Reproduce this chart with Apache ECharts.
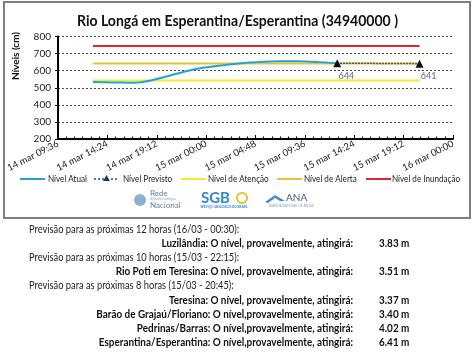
<!DOCTYPE html>
<html><head><meta charset="utf-8">
<script src="https://cdn.jsdelivr.net/npm/echarts@6/dist/echarts.min.js"></script>
<style>html,body{margin:0;padding:0;background:#fff}#c{width:474px;height:355px}</style>
</head><body><div id="c"></div>
<script>
// ---- data ----
const chartTitle = 'Rio Longá em Esperantina/Esperantina (34940000 )';
const yAxisName = 'Níveis (cm)';
// x values: hours since 14 mar 00:00
const atualHours  = [13, 15, 17, 19, 21, 23, 25, 27, 29, 31, 33, 35, 36.75];
const atualValues = [533, 531, 530, 548, 580, 610, 627, 641, 650, 655, 655, 650, 644];
const previstoHours  = [36.75, 44.75];
const previstoValues = [644, 641];
const limiteHours = [13, 44.75];
const atencaoValues   = [543, 543];
const alertaValues    = [642, 642];
const inundacaoValues = [745, 745];
const seriesNames = ['Nível Atual', 'Nível Previsto', 'Nível de Atenção', 'Nível de Alerta', 'Nível de Inundação'];
const seriesColors = ['#1fa3d8', '#1f3864', '#f2ec2a', '#f0c030', '#e3262a'];
const headerLines = [
  'Previsão para as próximas 12 horas (16/03 - 00:30):',
  'Previsão para as próximas 10 horas (15/03 - 22:15):',
  'Previsão para as próximas 8 horas (15/03 - 20:45):'
];
const stationLines = [
  'Luzilândia: O nível, provavelmente, atingirá:',
  'Rio Poti em Teresina: O nível, provavelmente, atingirá:',
  'Teresina: O nível, provavelmente, atingirá:',
  'Barão de Grajaú/Floriano: O nível,provavelmente, atingirá:',
  'Pedrinas/Barras: O nível,provavelmente, atingirá:',
  'Esperantina/Esperantina: O nível,provavelmente, atingirá:'
];
const stationValues = ['3.83 m', '3.51 m', '3.37 m', '3.40 m', '4.02 m', '6.41 m'];

const zip = (xs, ys) => xs.map((x, i) => [x, ys[i]]);
const FONT = 'Lato, "Open Sans", sans-serif';
const ctx = document.createElement('canvas').getContext('2d');
function textW(t, font) { ctx.font = font; return ctx.measureText(t).width; }

function fmtX(h) {
  const tm = Math.round(h * 60);
  const day = 14 + Math.floor(tm / 1440);
  const m = tm % 1440;
  const hh = String(Math.floor(m / 60)).padStart(2, '0');
  const mm = String(m % 60).padStart(2, '0');
  return day + ' mar ' + hh + ':' + mm;
}

const chart = echarts.init(document.getElementById('c'), null, {renderer: 'canvas'});

const titleFont = 'bold 16px ' + FONT;
const titleSx = 321 / textW(chartTitle, titleFont);
const hdrFont = '11px ' + FONT;
const hdrSx = 210 / textW(headerLines[0], hdrFont);
const stFont = 'bold 11px ' + FONT;
const stSx = (191 / textW(stationLines[0], stFont) + 238 / textW(stationLines[1], stFont)) / 2;
const lgFont = '10px ' + FONT;
const lgSx = 68 / textW(seriesNames[4], lgFont);

const graphics = [
  {type: 'rect', shape: {x: 4, y: 2, width: 466, height: 216}, style: {fill: 'none', stroke: '#7f7f7f', lineWidth: 2}, silent: true},
  {type: 'text', x: 237.5, y: 21, scaleX: titleSx, style: {text: chartTitle, font: titleFont, fill: '#111', textAlign: 'center', textVerticalAlign: 'middle'}},
  {type: 'text', x: 16, y: 56, rotation: Math.PI / 2, style: {text: yAxisName, font: 'bold 10px ' + FONT, fill: '#111', textAlign: 'center', textVerticalAlign: 'middle'}},
  // logo: Rede Hidrometeorológica Nacional
  {type: 'circle', shape: {cx: 140, cy: 200, r: 6}, style: {fill: '#6f9cc4', opacity: 0.8}},
  {type: 'text', x: 150, y: 193, style: {text: 'Rede', font: '8px ' + FONT, fill: '#5b7fa6', textVerticalAlign: 'middle'}},
  {type: 'text', x: 150, y: 199, style: {text: 'Hidrometeorológica', font: '3px ' + FONT, fill: '#8aa6c4', textVerticalAlign: 'middle'}},
  {type: 'text', x: 150, y: 205, style: {text: 'Nacional', font: '8px ' + FONT, fill: '#5b7fa6', textVerticalAlign: 'middle'}},
  // logo: SGB
  {type: 'text', x: 201, y: 198, style: {text: 'SGB', font: 'bold 15px ' + FONT, fill: '#2f86d6', textVerticalAlign: 'middle'}},
  {type: 'circle', shape: {cx: 242, cy: 198, r: 5}, style: {fill: 'none', stroke: '#e6c229', lineWidth: 2}},
  {type: 'text', x: 224, y: 207, style: {text: 'SERVIÇO GEOLÓGICO DO BRASIL', font: 'bold 3px ' + FONT, fill: '#2f86d6', textAlign: 'center', textVerticalAlign: 'middle'}},
  // logo: ANA
  {type: 'polygon', shape: {points: [[265, 202], [275, 195], [285, 201], [280, 201], [275, 198], [268, 203]]}, style: {fill: '#3f8fc9'}},
  {type: 'text', x: 286, y: 198, style: {text: 'ANA', font: '10px ' + FONT, fill: '#3d5a8a', textVerticalAlign: 'middle'}},
  {type: 'text', x: 291, y: 206, style: {text: 'AGÊNCIA NACIONAL DE ÁGUAS', font: '3px ' + FONT, fill: '#8a9ab4', textAlign: 'center', textVerticalAlign: 'middle'}}
];

// manual legend
const lgY = 179;
const lgIconX = [20, 94, 181, 277, 366];
const lgTextX = [48, 123, 208, 304, 392];
seriesNames.forEach((n, i) => {
  const c = seriesColors[i];
  if (i === 1) {
    [0, 4, 8, 17, 21].forEach(d => graphics.push({type: 'circle', shape: {cx: lgIconX[i] + d + 1, cy: lgY, r: 0.9}, style: {fill: c}}));
    graphics.push({type: 'polygon', shape: {points: [[lgIconX[i] + 12.5, lgY - 4], [lgIconX[i] + 16, lgY + 2], [lgIconX[i] + 9, lgY + 2]]}, style: {fill: c}});
  } else {
    graphics.push({type: 'line', shape: {x1: lgIconX[i], y1: lgY, x2: lgIconX[i] + 25, y2: lgY}, style: {stroke: c, lineWidth: 2}});
  }
  graphics.push({type: 'text', x: lgTextX[i], y: lgY, scaleX: lgSx, style: {text: n, font: lgFont, fill: '#222', textVerticalAlign: 'middle'}});
});

// bottom text rows
const rowY0 = 229.5, rowStep = 14.1;
const rowKinds = ['h', 's', 'h', 's', 'h', 's', 's', 's', 's'];
let hi = 0, si = 0;
rowKinds.forEach((k, i) => {
  const y = rowY0 + rowStep * i;
  if (k === 'h') {
    graphics.push({type: 'text', x: 29, y, scaleX: hdrSx, style: {text: headerLines[hi++], font: hdrFont, fill: '#222', textVerticalAlign: 'middle'}});
  } else {
    graphics.push({type: 'text', x: 353, y, scaleX: stSx, style: {text: stationLines[si], font: stFont, fill: '#111', textAlign: 'right', textVerticalAlign: 'middle'}});
    graphics.push({type: 'text', x: 379, y, scaleX: stSx, style: {text: stationValues[si], font: stFont, fill: '#111', textVerticalAlign: 'middle'}});
    si++;
  }
});

const flat = (name, vals, color) => ({
  name, type: 'line', data: zip(limiteHours, vals), symbol: 'none', showSymbol: false,
  lineStyle: {color, width: 2}, itemStyle: {color}, silent: true
});

chart.setOption({
  animation: false,
  backgroundColor: '#fff',
  textStyle: {fontFamily: FONT},
  grid: {left: 58, right: 21, top: 36.5, bottom: 216},
  legend: {show: false},
  xAxis: {
    type: 'value', min: 9.6, max: 48, interval: 4.8,
    axisLine: {show: true, lineStyle: {color: '#000', width: 2}},
    axisTick: {show: true, inside: true, length: 4, lineStyle: {color: '#000'}},
    minorTick: {show: true, splitNumber: 6, length: 2.5, lineStyle: {color: '#000'}},
    splitLine: {show: false},
    axisLabel: {rotate: 27, fontSize: 9.5, color: '#222', margin: 4, formatter: fmtX, fontFamily: FONT}
  },
  yAxis: {
    type: 'value', min: 200, max: 800, interval: 100,
    axisLine: {show: true, lineStyle: {color: '#000', width: 2}},
    axisTick: {show: true, length: 3, lineStyle: {color: '#000'}},
    splitLine: {show: true, lineStyle: {color: '#444', type: [2, 2], width: 1}},
    axisLabel: {fontSize: 10, color: '#222', margin: 7, fontFamily: FONT}
  },
  series: [
    {name: seriesNames[0], type: 'line', data: zip(atualHours, atualValues), smooth: true, symbol: 'none', showSymbol: false,
     lineStyle: {color: seriesColors[0], width: 2}, itemStyle: {color: seriesColors[0]}, z: 5},
    {name: seriesNames[1], type: 'line', data: zip(previstoHours, previstoValues), symbol: 'triangle', symbolSize: 8,
     lineStyle: {color: seriesColors[1], width: 1.5, type: 'dotted'}, itemStyle: {color: '#111'}, z: 6,
     label: {show: true, position: 'bottom', offset: [9, -1], fontSize: 9, color: '#5a6a8a', fontFamily: FONT}},
    flat(seriesNames[2], atencaoValues, seriesColors[2]),
    flat(seriesNames[3], alertaValues, seriesColors[3]),
    flat(seriesNames[4], inundacaoValues, seriesColors[4])
  ],
  graphic: graphics
});
</script></body></html>
